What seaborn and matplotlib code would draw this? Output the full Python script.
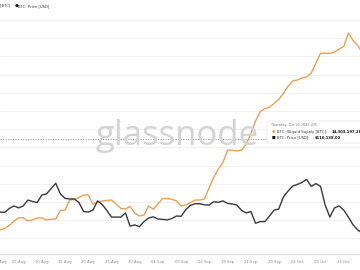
import numpy as np
import pandas as pd
import matplotlib
matplotlib.use("Agg")
import matplotlib.pyplot as plt
import matplotlib.dates as mdates
import seaborn as sns

# ---- data (daily, from 2025-08-01) ----
start_date = "2025-08-01"
illiquid_supply_kbtc = [
    14030.0, 14032.3, 14036.8, 14043.5, 14048.0, 14048.5, 14043.5, 14045.0, 14048.0, 14048.3,
    14045.0, 14046.1, 14046.5, 14059.3, 14060.0, 14075.0, 14075.8, 14078.8, 14082.5, 14082.5,
    14068.6, 14072.0, 14073.5, 14074.3, 14075.0, 14069.0, 14062.3, 14061.5, 14065.3, 14055.5,
    14051.0, 14052.5, 14066.0, 14061.1, 14069.0, 14077.3, 14077.3, 14076.1, 14073.5, 14066.0,
    14067.5, 14071.3, 14075.0, 14075.0, 14076.5, 14093.0, 14108.8, 14121.5, 14131.3, 14150.0,
    14149.7, 14148.5, 14150.0, 14159.0, 14174.0, 14193.5, 14207.0, 14212.3, 14214.1, 14219.8,
    14225.8, 14234.8, 14245.6, 14253.5, 14255.0, 14258.0, 14259.5, 14265.5, 14280.5, 14295.1,
    14295.1, 14294.8, 14297.0, 14301.5, 14305.3, 14325.5, 14314.3, 14306.8, 14295.5,
]
price_kusd = [
    113.0, 112.9, 114.3, 115.2, 114.5, 115.2, 117.3, 116.8, 116.4, 119.1,
    119.5, 121.4, 123.3, 119.5, 117.9, 117.7, 117.7, 116.4, 113.2, 113.0,
    113.7, 117.0, 115.7, 113.6, 111.2, 111.2, 111.2, 112.7, 108.0, 108.4,
    107.8, 109.6, 110.9, 111.3, 110.5, 110.4, 110.2, 110.7, 111.6, 111.5,
    113.9, 115.4, 116.0, 116.0, 115.6, 115.5, 116.7, 116.5, 117.0, 116.1,
    115.9, 115.5, 113.6, 112.7, 113.2, 109.0, 109.6, 109.6, 111.6, 113.7,
    114.1, 118.4, 120.5, 122.3, 122.9, 123.6, 124.7, 122.2, 123.2, 122.2,
    115.5, 111.2, 114.5, 115.2, 113.7, 111.2, 108.4, 106.6, 105.5,
]
tick_labels = ["01 Aug", "05 Aug", "10 Aug", "15 Aug", "20 Aug", "25 Aug", "30 Aug",
               "04 Sep", "09 Sep", "14 Sep", "19 Sep", "24 Sep", "29 Sep",
               "04 Oct", "09 Oct", "14 Oct"]
tooltip_date = "Thursday, Oct 23 2025 UTC"
tooltip_supply = "14,303,197.26"
tooltip_price = "$110,138.00"

dates = pd.date_range(start_date, periods=len(price_kusd), freq="D")
df = pd.DataFrame({"date": dates, "supply": illiquid_supply_kbtc, "price": price_kusd})

sns.set_theme(style="white")
plt.rcParams["font.family"] = ["DejaVu Sans"]

W, H = 360, 270
fig = plt.figure(figsize=(W / 100, H / 100), dpi=100)
fig.patch.set_facecolor("white")
ax = fig.add_axes([0, 16 / H, 1, 254 / H])
ax2 = ax.twinx()

orange = "#f0a04c"
dark = "#3a3a3a"

sns.lineplot(data=df, x="date", y="supply", ax=ax, color=orange, linewidth=1.0)
sns.lineplot(data=df, x="date", y="price", ax=ax2, color=dark, linewidth=1.0)

d0 = pd.Timestamp(start_date)
ax.set_xlim(d0 + pd.Timedelta(days=0.358), d0 + pd.Timedelta(days=77.49))
ax.set_ylim(13994, 14375)
ax2.set_ylim(98.0, 188.9)

# gridlines
grid_vals = 14345 - 27.3 * np.arange(0, 13)
ax.set_yticks(grid_vals)
ax.yaxis.grid(True, color="#efefef", linewidth=0.6)
ax.set_axisbelow(True)
ax.tick_params(axis="y", left=False, labelleft=False)
ax2.tick_params(axis="y", right=False, labelright=False)
ax2.grid(False)
ax.set_ylabel("")
ax2.set_ylabel("")
ax.set_xlabel("")
ax2.set_xlabel("")

tick_dates = [pd.to_datetime(t + " 2025", format="%d %b %Y") for t in tick_labels]
ax.set_xticks(tick_dates)
ax.set_xticklabels(tick_labels)
ax.tick_params(axis="x", length=0, pad=4.3, labelsize=2.7, colors="#8a8a8a")

for a in (ax, ax2):
    for s in ("top", "left", "right"):
        a.spines[s].set_visible(False)
    a.spines["bottom"].set_color("#dddddd")
    a.spines["bottom"].set_linewidth(0.8)
ax2.spines["bottom"].set_visible(False)

# watermark
fig.text(177 / W, 1 - 136 / H, "glassnode", fontsize=25, color="#d4d4d4",
         ha="center", va="center", family="Open Sans", zorder=0)

# crosshair
ax.plot([0, 267 / W], [1 - 131 / 254 * (254 / 254), 1 - 131 / 254], transform=fig.transFigure,
        color="#999999", linewidth=0.6, linestyle=(0, (1.5, 1.5)))

# tooltip
from matplotlib.patches import FancyBboxPatch
box = FancyBboxPatch((267 / W, 1 - 143 / H), 100 / W, 22 / H, boxstyle="round,pad=0,rounding_size=0.005",
                     transform=fig.transFigure, facecolor="white", edgecolor="#e6e6e6",
                     linewidth=0.5, zorder=5)
fig.patches.append(box)
fig.text(271 / W, 1 - 125 / H, tooltip_date, fontsize=2.4, color="#777777", va="center", zorder=6)
fig.text(273 / W, 1 - 131.7 / H, "●", fontsize=2.8, color=orange, va="center", ha="center", zorder=6)
fig.text(277 / W, 1 - 131.7 / H, "BTC: Illiquid Supply [BTC]: ", fontsize=2.7, color="#333333",
         va="center", zorder=6)
fig.text(332 / W, 1 - 131.7 / H, tooltip_supply, fontsize=2.7, color="#111111", va="center",
         weight="bold", zorder=6)
fig.text(273 / W, 1 - 137.7 / H, "■", fontsize=2.8, color="#111111", va="center", ha="center", zorder=6)
fig.text(277 / W, 1 - 137.7 / H, "BTC: Price [USD]: ", fontsize=2.7, color="#333333",
         va="center", zorder=6)
fig.text(315 / W, 1 - 137.7 / H, tooltip_price, fontsize=2.7, color="#111111", va="center",
         weight="bold", zorder=6)

# legend (partially cropped)
fig.text(10 / W, 1 - 6 / H, "● BTC: Illiquid Supply [BTC]", fontsize=2.7, color="#333333",
         va="center", ha="right")
fig.text(16.7 / W, 1 - 6 / H, "●", fontsize=3.2, color="#111111", va="center", ha="center")
fig.text(18.5 / W, 1 - 6 / H, "BTC: Price [USD]", fontsize=2.7, color="#333333", va="center")

fig.savefig("out.png", dpi=100)
